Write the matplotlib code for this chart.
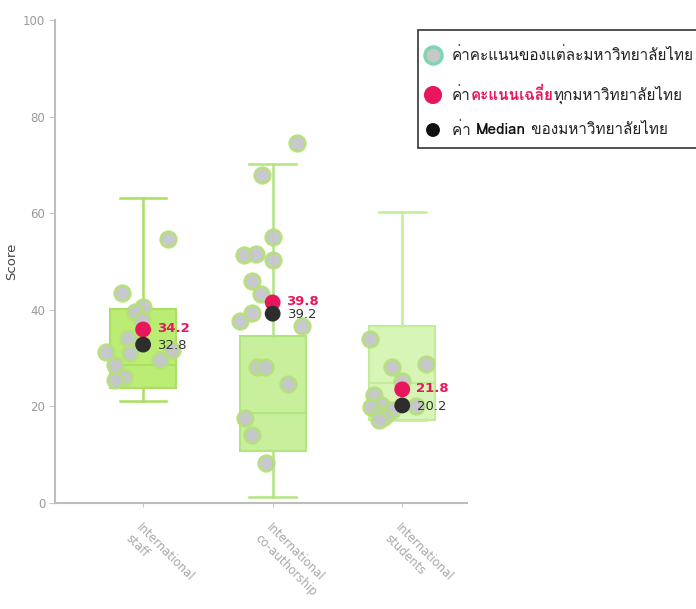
import matplotlib
matplotlib.use("Agg")
import matplotlib.pyplot as plt
from matplotlib import font_manager
from matplotlib.ft2font import FT2Font
from matplotlib.patches import Rectangle
from matplotlib.transforms import offset_copy

# ---------------- data ----------------
categories = ["International\nstaff", "International\nco-authorship", "International\nstudents"]

staff_scores = [54.7, 43.5, 40.6, 39.5, 37.9, 34.2, 31.7, 31.3, 31.1, 29.6, 28.6, 26.1, 25.5]
staff_jitter = [0.19, -0.16, 0.0, -0.06, -0.01, -0.12, 0.22, -0.29, -0.10, 0.13, -0.22, -0.15, -0.22]

coauth_scores = [74.5, 67.9, 55.1, 51.3, 51.6, 50.3, 46.0, 43.3, 39.3, 37.7, 36.6, 28.2, 28.2, 24.6, 17.6, 14.1, 8.3]
coauth_jitter = [0.19, -0.08, 0.0, -0.22, -0.13, 0.0, -0.16, -0.09, -0.16, -0.25, 0.23, -0.12, -0.06, 0.12, -0.21, -0.16, -0.05]

students_scores = [34.0, 28.8, 28.2, 25.3, 22.3, 20.3, 20.0, 19.9, 19.3, 18.5, 17.8, 17.2]
students_jitter = [-0.25, 0.18, -0.08, 0.0, -0.22, -0.16, 0.11, -0.24, -0.08, -0.18, -0.14, -0.18]

# box statistics (whisker low, Q1, median, Q3, whisker high)
box_whislo = [21.1, 1.2, 17.2]
box_q1 = [23.8, 10.8, 17.2]
box_med = [28.6, 18.6, 24.8]
box_q3 = [40.2, 34.6, 36.6]
box_whishi = [63.1, 70.2, 60.2]

mean_values = [34.2, 39.8, 21.8]
median_values = [32.8, 39.2, 20.2]

y_ticks = [0, 20, 40, 60, 80, 100]

legend_rows = [
    [("ค่าคะแนนของแต่ละมหาวิทยาลัยไทย", "normal", "#222222")],
    [("ค่า", "normal", "#222222"), ("คะแนนเฉลี่ย", "bold", "#e8175d"), ("ทุกมหาวิทยาลัยไทย", "normal", "#222222")],
    [("ค่า ", "normal", "#222222"), ("Median", "bold", "#111111"), (" ของมหาวิทยาลัยไทย", "normal", "#222222")],
]

# ---------------- fonts ----------------
def find_thai_font():
    for f in font_manager.fontManager.ttflist:
        try:
            cm = FT2Font(f.fname).get_charmap()
            if 0x0E04 in cm and 0x0E32 in cm:
                return f.name
        except Exception:
            pass
    return None

thai = find_thai_font()
fam = ([thai] if thai else []) + ["DejaVu Sans"]
plt.rcParams["font.family"] = fam

# ---------------- figure ----------------
W, H = 696, 609
fig = plt.figure(figsize=(W / 100, H / 100), dpi=100)
ax = fig.add_axes([55 / W, 1 - 503 / H, (467 - 55) / W, (503 - 20) / H])

box_faces = ["#bbec74", "#c8f09c", "#d8f5b8"]
box_edges = ["#a9df62", "#b2e482", "#c2ec98"]

stats = []
for i in range(3):
    stats.append(dict(whislo=box_whislo[i], q1=box_q1[i], med=box_med[i],
                      q3=box_q3[i], whishi=box_whishi[i], fliers=[]))

for i in range(3):
    ax.bxp([stats[i]], positions=[i], widths=0.51, showfliers=False, patch_artist=True,
           boxprops=dict(facecolor=box_faces[i], edgecolor=box_edges[i], linewidth=1.5),
           whiskerprops=dict(color=box_edges[i], linewidth=1.8),
           capprops=dict(color=box_edges[i], linewidth=1.8),
           medianprops=dict(color=box_edges[i], linewidth=1.5),
           capwidths=0.36, zorder=1)

all_scores = [staff_scores, coauth_scores, students_scores]
all_jitter = [staff_jitter, coauth_jitter, students_jitter]
for i in range(3):
    xs = [i + j for j in all_jitter[i]]
    ax.scatter(xs, all_scores[i], s=125, color="#c5c6cc", edgecolors="#b6e07c",
               linewidths=2.0, zorder=3, alpha=0.95)

up = offset_copy(ax.transData, fig=fig, x=0, y=6, units="points")
for i in range(3):
    ax.scatter([i], [mean_values[i]], s=130, color="#e8175d", zorder=5, transform=up,
               edgecolors="none")
    ax.scatter([i], [median_values[i]], s=130, color="#2d2d2d", zorder=5, edgecolors="none")
    tm = offset_copy(ax.transData, fig=fig, x=10, y=6.5, units="points")
    ax.text(i, mean_values[i], f"{mean_values[i]:.1f}", transform=tm, color="#e8175d",
            fontsize=9.5, fontweight="bold", va="center", ha="left", zorder=6,
            family=["DejaVu Sans"])
    tmd = offset_copy(ax.transData, fig=fig, x=11, y=-0.5, units="points")
    ax.text(i, median_values[i], f"{median_values[i]:.1f}", transform=tmd, color="#333333",
            fontsize=9.5, va="center", ha="left", zorder=6, family=["DejaVu Sans"])

ax.set_xlim(-0.68, 2.5)
ax.set_ylim(0, 100)
ax.set_yticks(y_ticks)
ax.set_yticklabels([str(v) for v in y_ticks], color="#999999", fontsize=8.5,
                   family=["DejaVu Sans"])
ax.set_xticks(range(3))
ax.set_xticklabels(categories, rotation=-45, ha="left", va="top", rotation_mode="anchor",
                   color="#a8a8a8", fontsize=8.5, family=["DejaVu Sans"])
ax.tick_params(axis="x", length=3, color="#c8c8c8", pad=10)
ax.tick_params(axis="y", length=4, color="#c8c8c8", pad=3)
for s in ["top", "right"]:
    ax.spines[s].set_visible(False)
for s in ["left", "bottom"]:
    ax.spines[s].set_color("#bdbdbd")
    ax.spines[s].set_linewidth(1.5)
ax.set_ylabel("Score", color="#444444", fontsize=9.5, family=["DejaVu Sans"])
ax.yaxis.set_label_coords(-0.09, 0.5)
ax.set_facecolor("white")

# ---------------- custom legend ----------------
lax = fig.add_axes([0, 0, 1, 1], facecolor="none")
lax.set_xlim(0, W)
lax.set_ylim(H, 0)
lax.axis("off")
lax.add_patch(Rectangle((418, 30), 300, 118, facecolor="white", edgecolor="#333333",
                        linewidth=1.2, zorder=1, clip_on=False))
row_y = [55, 95, 130]
mk = [dict(s=150, color="#c8c8c8", edgecolors="#7fd6b2", linewidths=2.5),
      dict(s=170, color="#e8175d", edgecolors="none"),
      dict(s=100, color="#111111", edgecolors="none")]
for r in range(3):
    lax.scatter([433], [row_y[r]], zorder=3, clip_on=False, **mk[r])

fig.canvas.draw()
renderer = fig.canvas.get_renderer()
for r, row in enumerate(legend_rows):
    x = 452
    for txt, weight, col in row:
        t = lax.text(x, row_y[r], txt, fontsize=11, fontweight=weight, color=col,
                     va="center", ha="left", zorder=4)
        bb = t.get_window_extent(renderer)
        x += bb.width

fig.savefig("out.png", dpi=100)
